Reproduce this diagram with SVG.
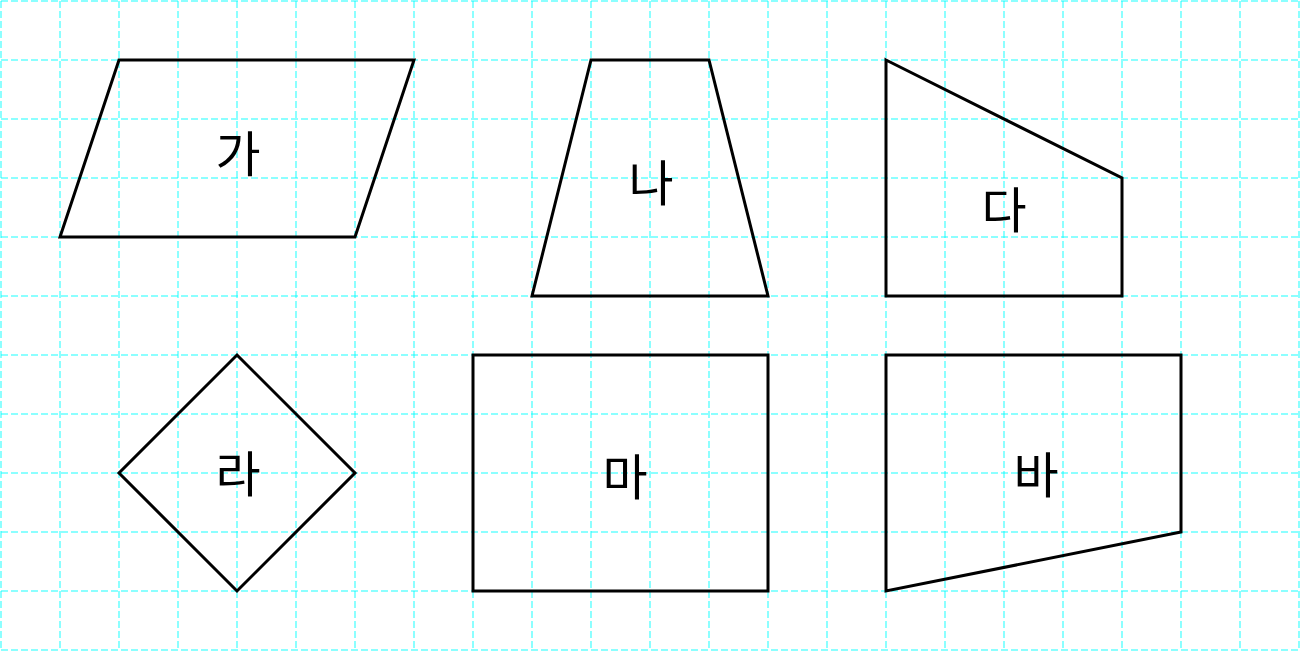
<svg xmlns="http://www.w3.org/2000/svg" width="1300" height="651" viewBox="0 0 1300 651">
<defs>
<style>
.grid line{stroke:#00ffff;stroke-opacity:0.6;stroke-width:1.5;stroke-dasharray:7 3;}
.shape{fill:none;stroke:#000;stroke-width:3;stroke-linejoin:miter;}
.lbl{font-family:"Noto Sans CJK KR","Noto Sans",sans-serif;font-size:49px;fill:#000;text-anchor:middle;dominant-baseline:central;}
</style>
</defs>
<rect width="1300" height="651" fill="#fff"/>
<g class="grid" id="grid">
<line x1="1" y1="1" x2="1" y2="650"/><line x1="60" y1="1" x2="60" y2="650"/><line x1="119" y1="1" x2="119" y2="650"/><line x1="178" y1="1" x2="178" y2="650"/><line x1="237" y1="1" x2="237" y2="650"/><line x1="296" y1="1" x2="296" y2="650"/><line x1="355" y1="1" x2="355" y2="650"/><line x1="414" y1="1" x2="414" y2="650"/><line x1="473" y1="1" x2="473" y2="650"/><line x1="532" y1="1" x2="532" y2="650"/><line x1="591" y1="1" x2="591" y2="650"/><line x1="650" y1="1" x2="650" y2="650"/><line x1="709" y1="1" x2="709" y2="650"/><line x1="768" y1="1" x2="768" y2="650"/><line x1="827" y1="1" x2="827" y2="650"/><line x1="886" y1="1" x2="886" y2="650"/><line x1="945" y1="1" x2="945" y2="650"/><line x1="1004" y1="1" x2="1004" y2="650"/><line x1="1063" y1="1" x2="1063" y2="650"/><line x1="1122" y1="1" x2="1122" y2="650"/><line x1="1181" y1="1" x2="1181" y2="650"/><line x1="1240" y1="1" x2="1240" y2="650"/><line x1="1299" y1="1" x2="1299" y2="650"/>
<line x1="1" y1="1" x2="1299" y2="1"/><line x1="1" y1="60" x2="1299" y2="60"/><line x1="1" y1="119" x2="1299" y2="119"/><line x1="1" y1="178" x2="1299" y2="178"/><line x1="1" y1="237" x2="1299" y2="237"/><line x1="1" y1="296" x2="1299" y2="296"/><line x1="1" y1="355" x2="1299" y2="355"/><line x1="1" y1="414" x2="1299" y2="414"/><line x1="1" y1="473" x2="1299" y2="473"/><line x1="1" y1="532" x2="1299" y2="532"/><line x1="1" y1="591" x2="1299" y2="591"/><line x1="1" y1="650" x2="1299" y2="650"/>
</g>
<g id="ga"><polygon class="shape" points="119,60 414,60 355,237 60,237"/><text class="lbl" x="238" y="150">가</text></g>
<g id="na"><polygon class="shape" points="591,60 709,60 768,296 532,296"/><text class="lbl" x="651" y="179">나</text></g>
<g id="da"><polygon class="shape" points="886,60 1122,178 1122,296 886,296"/><text class="lbl" x="1004" y="206">다</text></g>
<g id="ra"><polygon class="shape" points="237,355 355,473 237,591 119,473"/><text class="lbl" x="238" y="470">라</text></g>
<g id="ma"><polygon class="shape" points="473,355 768,355 768,591 473,591"/><text class="lbl" x="625" y="473">마</text></g>
<g id="ba"><polygon class="shape" points="886,355 1181,355 1181,532 886,591"/><text class="lbl" x="1036" y="471">바</text></g>
<g id="connectors"/>
</svg>
